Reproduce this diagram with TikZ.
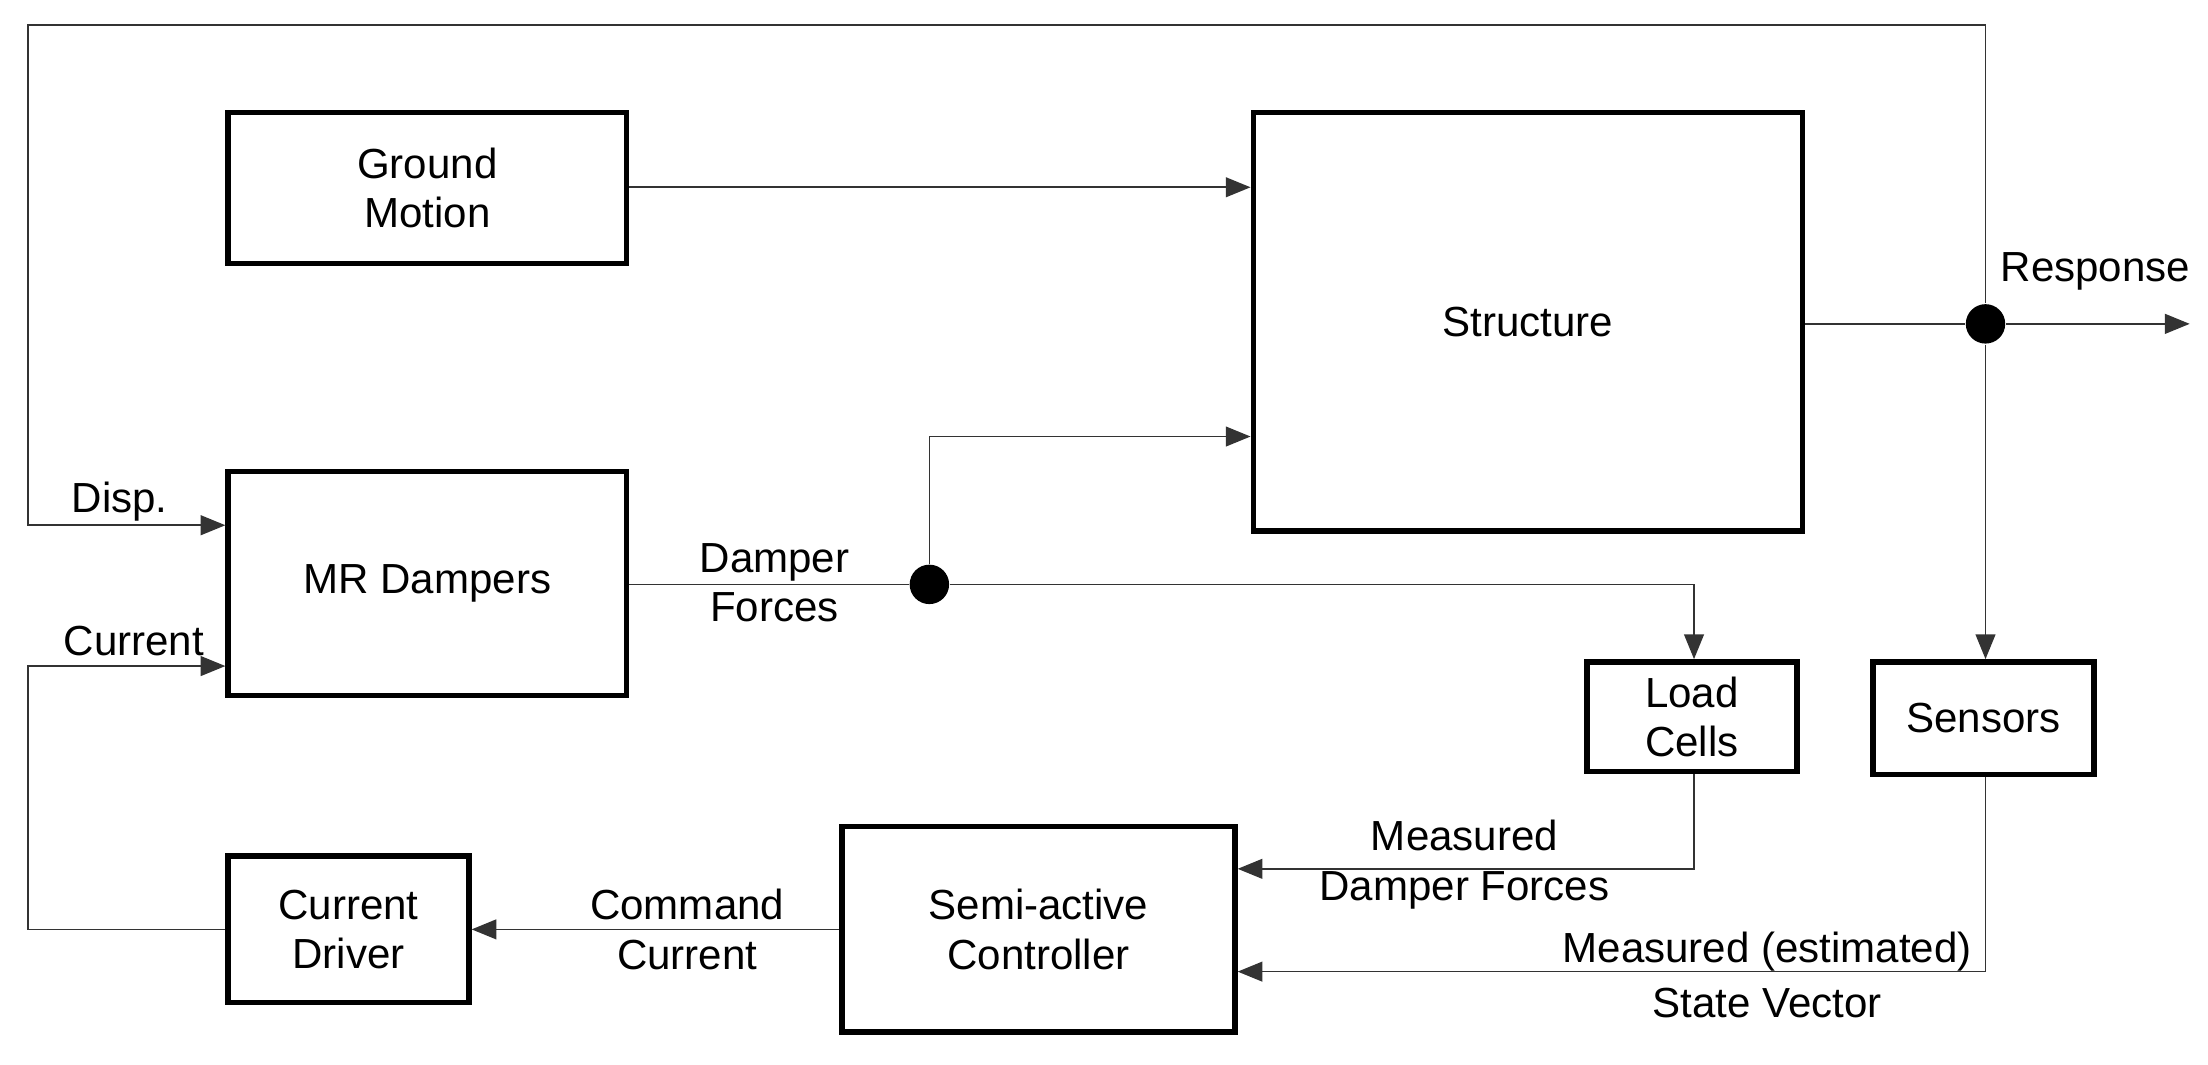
\documentclass[tikz,border=0pt]{standalone}
\usepackage{fontspec}
\setmainfont{Liberation Sans}
\usetikzlibrary{arrows.meta}
\begin{document}
\begin{tikzpicture}[x=0.1mm,y=-0.1mm,
  box/.style={draw,line width=1.1pt,inner sep=0pt,align=center,font=\fontsize{8.5}{10}\selectfont},
  ln/.style={line width=0.35pt,draw=black!80},
  arr/.style={ln,-{Triangle[length=5pt,width=4pt]}},
  lab/.style={font=\fontsize{8.5}{10}\selectfont,align=center,inner sep=1pt},
  dot/.style={circle,fill,inner sep=0pt,minimum size=2.8mm}]
\useasboundingbox (0,0) rectangle (1568,756);
\node[box,minimum width=28.3mm,minimum height=10.7mm] (gm) at (303.5,133.5) {Ground\\Motion};
\node[box,minimum width=39mm,minimum height=29.7mm] (st) at (1085,228.5) {Structure};
\node[box,minimum width=28.3mm,minimum height=15.9mm] (mr) at (303.5,414.5) {MR Dampers};
\node[box,minimum width=14.9mm,minimum height=7.8mm] (lc) at (1201.5,509) {Load\\Cells};
\node[box,minimum width=15.7mm,minimum height=8mm] (se) at (1408.5,510) {Sensors};
\node[box,minimum width=17.1mm,minimum height=10.4mm] (cd) at (247.5,660) {Current\\Driver};
\node[box,minimum width=27.9mm,minimum height=14.6mm] (sc) at (737.5,660) {Semi-active\\Controller};
\node[dot] (j1) at (1410,230) {};
\node[dot] (j2) at (660,415) {};
\coordinate (out) at (1555,230);
\draw[arr] (gm.east |- 0,133) -- (st.west |- 0,133);
\draw[ln] (st.east |- 0,230) -- (j1);
\draw[arr] (j1) -- (out);
\draw[arr] (j1) |- (20,18) -- (20,373) -- (mr.west |- 0,373);
\draw[arr] (j1) -- (se.north -| j1);
\draw[ln] (mr.east |- 0,415) -- (j2);
\draw[arr] (j2) |- (st.west |- 0,310);
\draw[arr] (j2) -| (lc.north -| 1203,0);
\draw[arr] (lc.south -| 1203,0) |- (sc.east |- 0,617);
\draw[arr] (se.south -| 1410,0) |- (sc.east |- 0,690);
\draw[arr] (sc.west) -- (cd.east);
\draw[arr] (cd.west) -- (20,660) |- (mr.west |- 0,473);
\node[lab] (l1) at (85,356) {Disp.};
\node[lab] (l2) at (95,455) {Current};
\node[lab] (l3) at (550,414) {Damper\\Forces};
\node[lab] (l4) at (1488,193) {Response};
\node[lab] (l5) at (1040,614) {Measured\\Damper Forces};
\node[lab] (l6) at (488,660) {Command\\Current};
\node[lab] (l7a) at (1255,676) {Measured (estimated)};
\node[lab] (l7b) at (1255,712) {State Vector};
\end{tikzpicture}
\end{document}
